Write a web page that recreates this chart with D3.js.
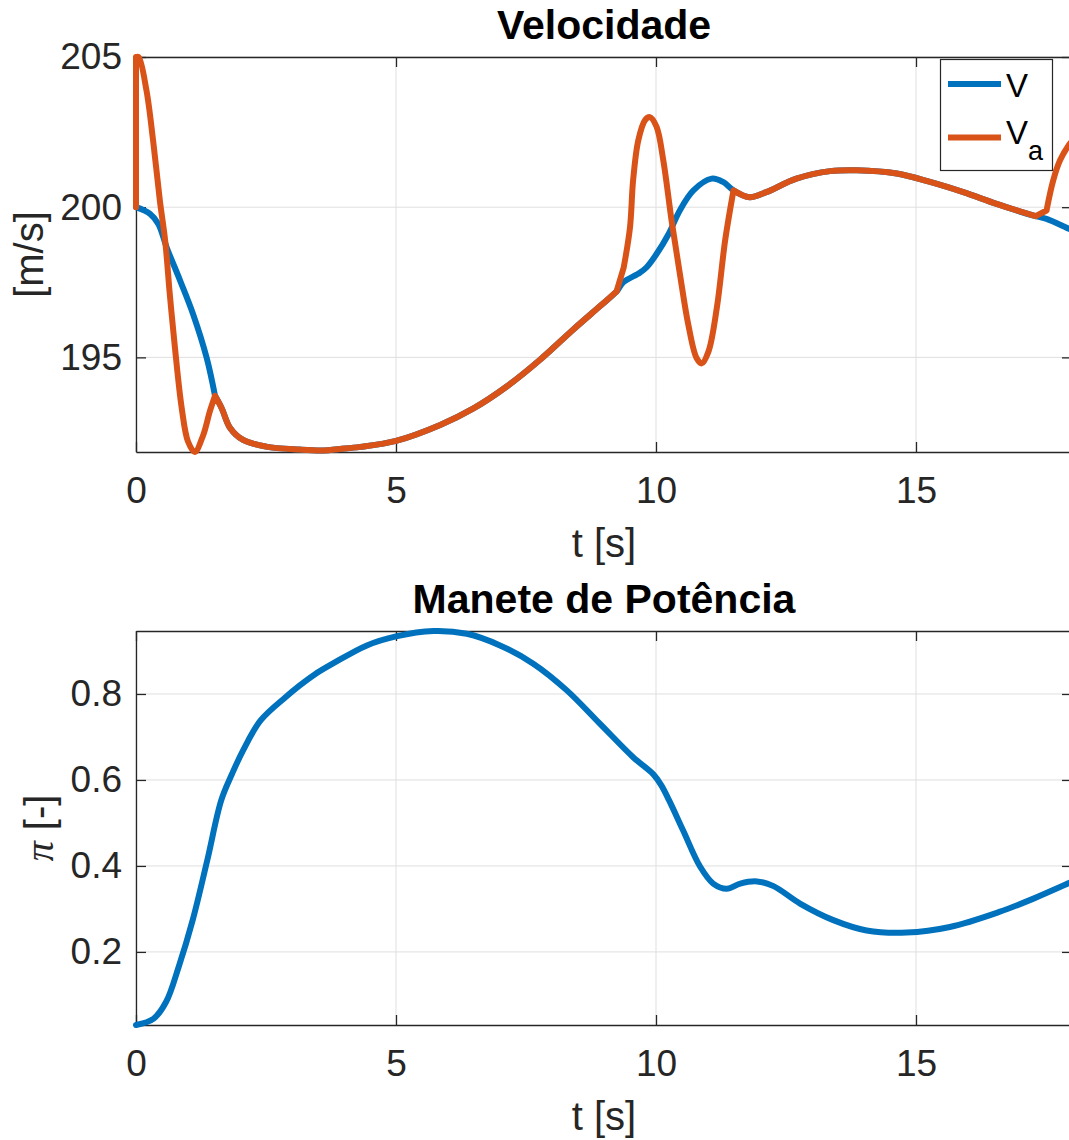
<!DOCTYPE html>
<html>
<head>
<meta charset="utf-8">
<script src="https://cdn.jsdelivr.net/npm/d3@7"></script>
<style>
  html, body { margin: 0; padding: 0; background: #fff; overflow: hidden; }
  svg { display: block; }
  text { font-family: "Liberation Sans", Arial, Helvetica, sans-serif; }
</style>
</head>
<body>
<svg id="fig" width="1069" height="1140"></svg>
<script>
// ---- Velocidade: airspeed V and Va [m/s] over time t [s] ----
const velT = [0, 0.27, 0.43, 0.59, 0.85, 1.1, 1.36, 1.52, 1.65, 1.81, 2.06, 2.5, 3.15, 3.6, 3.92, 4.31,
  5.0, 5.85, 6.49, 7.13, 7.77, 8.41, 8.92, 9.24, 9.37, 9.69, 9.82, 10.01, 10.24, 10.46, 10.72, 11.07,
  11.29, 11.49, 11.8, 12.12, 12.7, 13.35, 13.86, 14.63, 15.27, 15.91, 16.55, 17.3, 17.51, 17.94, 18.0];
const velV = [200.0, 199.78, 199.44, 198.66, 197.55, 196.43, 194.98, 193.72, 193.3, 192.65, 192.25, 192.03, 191.93, 191.9, 191.95, 192.02,
  192.22, 192.75, 193.3, 194.03, 194.92, 195.93, 196.7, 197.19, 197.5, 197.82, 198.0, 198.44, 199.1, 199.9, 200.56, 200.95,
  200.84, 200.56, 200.33, 200.5, 200.95, 201.2, 201.23, 201.12, 200.84, 200.5, 200.11, 199.7, 199.61, 199.28, 199.24];
const velCorners = [1.52];

const vaT = [0, 0, 0.05, 0.2, 0.33, 0.46, 0.56, 0.65, 0.75, 0.88, 1.0, 1.13, 1.29, 1.42, 1.52, 1.65, 1.81, 2.06, 2.5,
  3.15, 3.6, 3.92, 4.31, 5.0, 5.85, 6.49, 7.13, 7.77, 8.41, 8.92, 9.24, 9.38, 9.5, 9.56, 9.66, 9.79, 9.88, 10.01,
  10.14, 10.3, 10.46, 10.62, 10.78, 10.88, 11.01, 11.17, 11.33, 11.49, 11.8, 12.12, 12.7, 13.35, 13.86, 14.63,
  15.27, 15.91, 16.55, 17.3, 17.51, 17.64, 17.77, 17.94, 18.0];
const vaV = [200.0, 205.0, 205.0, 203.9, 202.2, 200.2, 198.9, 197.1, 195.3, 193.3, 192.2, 191.85, 192.4, 193.2, 193.72, 193.3, 192.65, 192.25, 192.03,
  191.93, 191.9, 191.95, 192.02, 192.22, 192.75, 193.3, 194.03, 194.92, 195.93, 196.7, 197.19, 198.0, 199.33, 200.9, 202.23, 202.9, 203.0, 202.68,
  201.56, 199.55, 197.77, 196.1, 194.98, 194.8, 195.2, 196.65, 198.9, 200.56, 200.33, 200.5, 200.95, 201.2, 201.23, 201.12,
  200.84, 200.5, 200.11, 199.7, 199.89, 200.9, 201.56, 202.07, 202.2];
const vaCorners = [1.52, 9.24, 9.38, 11.49, 17.3, 17.51];

// ---- Manete de Potência: throttle setting pi [-] ----
const thrT = [0, 0.34, 0.58, 0.82, 1.09, 1.37, 1.64, 1.85, 2.06, 2.4, 2.88, 3.15, 3.43, 3.79, 4.44, 5.0, 5.72,
  6.36, 7.0, 7.64, 8.28, 8.92, 9.56, 9.95, 10.1, 10.25, 10.52, 10.85, 11.1, 11.36, 11.62, 11.94, 12.26,
  12.77, 13.41, 14.05, 14.82, 15.65, 16.6, 17.26, 17.94, 18.0];
const thrP = [0.03, 0.045, 0.084, 0.165, 0.274, 0.413, 0.553, 0.615, 0.669, 0.739, 0.793, 0.82, 0.845, 0.871, 0.913, 0.934, 0.9465,
  0.94, 0.913, 0.8706, 0.809, 0.731, 0.653, 0.613, 0.588, 0.553, 0.483, 0.398, 0.359, 0.347, 0.359, 0.364, 0.353,
  0.3125, 0.274, 0.25, 0.245, 0.258, 0.293, 0.324, 0.36, 0.363];

const xTicks = [0, 5, 10, 15];
const velTicks = [195, 200, 205];
const thrTicks = [0.2, 0.4, 0.6, 0.8];
const xDomain = [0, 18];

const BLUE = "#0072BD", ORANGE = "#D95319", AX = "#262626", GRID = "#dfdfdf";
const TICK_FS = 37, LABEL_FS = 40, TITLE_FS = 41, LEG_FS = 33;
const LINE_W = 6;
const smooth = d3.curveCatmullRom.alpha(0.5);

const svg = d3.select("#fig");

// Smooth path split into pieces at sharp corners and vertical jumps
function cornerPath(ts, vs, corners, x, y) {
  const pts = ts.map((t, i) => [t, vs[i]]);
  const breaks = [];
  pts.forEach((p, i) => {
    const dupPrev = i > 0 && ts[i - 1] === p[0];
    const dupNext = i < ts.length - 1 && ts[i + 1] === p[0];
    if (i === 0 || i === pts.length - 1 || dupPrev || dupNext || corners.includes(p[0])) breaks.push(i);
  });
  const gen = d3.line().x(d => x(d[0])).y(d => y(d[1])).curve(smooth);
  let d = "";
  for (let k = 0; k < breaks.length - 1; k++) {
    const seg = pts.slice(breaks[k], breaks[k + 1] + 1);
    if (seg.length > 1) d += gen(seg);
  }
  return d;
}

function panel(cfg) {
  const { left, right, top, bottom } = cfg.box;
  const x = d3.scaleLinear().domain(xDomain).range([left, right]);
  const y = d3.scaleLinear().domain(cfg.yDomain).range([bottom, top]);
  const g = svg.append("g");

  // grid
  g.append("g").selectAll("line").data(xTicks).join("line")
    .attr("x1", d => x(d)).attr("x2", d => x(d)).attr("y1", top).attr("y2", bottom)
    .attr("stroke", GRID).attr("stroke-width", 1);
  g.append("g").selectAll("line").data(cfg.yTicks).join("line")
    .attr("x1", left).attr("x2", right).attr("y1", d => y(d)).attr("y2", d => y(d))
    .attr("stroke", GRID).attr("stroke-width", 1);

  // axes (box with inward ticks)
  const styleAxis = sel => {
    sel.selectAll("path.domain").attr("stroke", AX).attr("stroke-width", 1.3);
    sel.selectAll(".tick line").attr("stroke", AX).attr("stroke-width", 1.3);
    sel.selectAll(".tick text").attr("fill", AX).attr("font-size", TICK_FS)
      .attr("font-family", "'Liberation Sans', Arial, Helvetica, sans-serif");
  };
  g.append("g").attr("transform", `translate(0,${bottom})`)
    .call(d3.axisBottom(x).tickValues(xTicks).tickSizeInner(-10).tickSizeOuter(0).tickPadding(25).tickFormat(d3.format("d")))
    .call(styleAxis);
  g.append("g").attr("transform", `translate(0,${top})`)
    .call(d3.axisTop(x).tickValues(xTicks).tickSizeInner(-10).tickSizeOuter(0).tickFormat(""))
    .call(styleAxis);
  g.append("g").attr("transform", `translate(${left},0)`)
    .call(d3.axisLeft(y).tickValues(cfg.yTicks).tickSizeInner(-10).tickSizeOuter(0).tickPadding(14).tickFormat(cfg.fmt))
    .call(styleAxis);
  g.append("g").attr("transform", `translate(${right},0)`)
    .call(d3.axisRight(y).tickValues(cfg.yTicks).tickSizeInner(-10).tickSizeOuter(0).tickFormat(""))
    .call(styleAxis);
  g.selectAll(".domain").attr("fill", "none");

  // title
  g.append("text").attr("x", (left + right) / 2).attr("y", top - 18)
    .attr("text-anchor", "middle").attr("font-size", TITLE_FS).attr("font-weight", "bold")
    .attr("fill", "#000").text(cfg.title);

  // x label
  g.append("text").attr("x", (left + right) / 2).attr("y", bottom + 105)
    .attr("text-anchor", "middle").attr("font-size", LABEL_FS).attr("fill", AX).text("t [s]");

  // y label
  const yl = g.append("text")
    .attr("transform", `translate(${cfg.yLabelX},${(top + bottom) / 2}) rotate(-90)`)
    .attr("text-anchor", "middle").attr("font-size", LABEL_FS).attr("fill", AX);
  cfg.yLabel(yl);

  return { g, x, y };
}

// ---------- top panel ----------
const vAll = velV.concat(vaV);
const velPanel = panel({
  box: { left: 136, right: 1072, top: 57, bottom: 452 },
  yDomain: d3.extent(vAll),
  yTicks: velTicks,
  fmt: d3.format("d"),
  title: "Velocidade",
  yLabelX: 43,
  yLabel: t => t.text("[m/s]")
});

velPanel.g.append("path")
  .attr("d", cornerPath(velT, velV, velCorners, velPanel.x, velPanel.y))
  .attr("fill", "none").attr("stroke", BLUE).attr("stroke-width", LINE_W)
  .attr("stroke-linejoin", "round").attr("stroke-linecap", "round");
velPanel.g.append("path")
  .attr("d", cornerPath(vaT, vaV, vaCorners, velPanel.x, velPanel.y))
  .attr("fill", "none").attr("stroke", ORANGE).attr("stroke-width", LINE_W)
  .attr("stroke-linejoin", "round").attr("stroke-linecap", "round");

// legend
const leg = velPanel.g.append("g");
leg.append("rect").attr("x", 940.5).attr("y", 59.5).attr("width", 112).attr("height", 111)
  .attr("fill", "#fff").attr("stroke", AX).attr("stroke-width", 1.2);
const legItems = [
  { color: BLUE, y: 84, name: "V", sub: null, textY: 97 },
  { color: ORANGE, y: 137.5, name: "V", sub: "a", textY: 143.5 }
];
legItems.forEach(it => {
  leg.append("line").attr("x1", 948).attr("x2", 1001).attr("y1", it.y).attr("y2", it.y)
    .attr("stroke", it.color).attr("stroke-width", LINE_W);
  const t = leg.append("text").attr("x", 1006).attr("y", it.textY)
    .attr("font-size", LEG_FS).attr("fill", "#000").text(it.name);
  if (it.sub) {
    t.append("tspan").attr("dy", 16).attr("font-size", 27).text(it.sub);
  }
});

// ---------- bottom panel ----------
const thrPanel = panel({
  box: { left: 136, right: 1072, top: 631, bottom: 1025 },
  yDomain: d3.extent(thrP),
  yTicks: thrTicks,
  fmt: d3.format(".1f"),
  title: "Manete de Potência",
  yLabelX: 53,
  yLabel: t => {
    t.append("tspan").attr("font-family", "'Liberation Serif', 'DejaVu Serif', serif")
      .attr("font-style", "italic").text("π");
    t.append("tspan").text(" [-]");
  }
});

thrPanel.g.append("path")
  .attr("d", d3.line().x((d, i) => thrPanel.x(thrT[i])).y(d => thrPanel.y(d)).curve(smooth)(thrP))
  .attr("fill", "none").attr("stroke", BLUE).attr("stroke-width", LINE_W)
  .attr("stroke-linejoin", "round").attr("stroke-linecap", "round");
</script>
</body>
</html>
